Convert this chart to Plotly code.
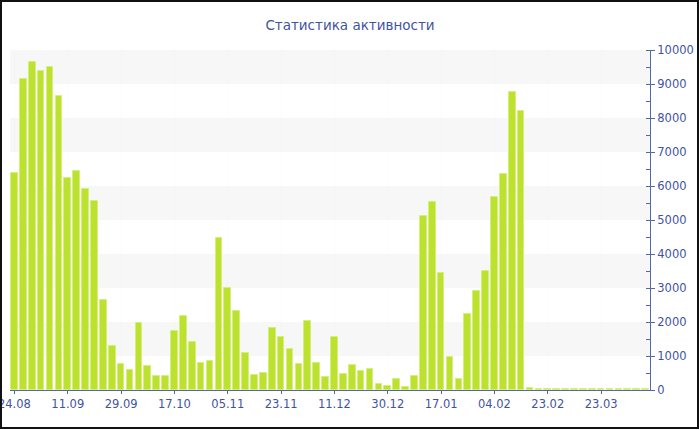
import plotly.graph_objects as go

# ---- data ----
tick_labels = ["24.08", "11.09", "29.09", "17.10", "05.11", "23.11",
               "11.12", "30.12", "17.01", "04.02", "23.02", "23.03"]
values = [
    6370, 9150, 9650, 9390, 9490, 8640, 6230, 6440, 5900, 5550,
    2650, 1280, 760, 600, 1960, 700, 420, 420, 1750, 2190,
    1420, 780, 860, 4460, 3010, 2330, 1100, 430, 500, 1820,
    1550, 1200, 760, 2040, 790, 380, 1550, 470, 730, 560,
    630, 180, 120, 320, 90, 400, 5120, 5520, 3450, 960,
    320, 2230, 2900, 3490, 5670, 6360, 8760, 8200, 60, 30,
    25, 30, 25, 25, 30, 25, 30, 25, 30, 25, 25, 30,
]
positions = list(range(len(values)))
label_every = 6
tick_positions = positions[::label_every]
band_ranges = [(1000, 2000), (3000, 4000), (5000, 6000), (7000, 8000), (9000, 10000)]

AXIS = "#5468a6"
TEXT = "#3f54a0"

fig = go.Figure()
fig.add_trace(go.Bar(
    x=positions, y=values,
    marker=dict(color="#bde12f", line=dict(color="#d6ef7a", width=1)),
    width=0.74,
    hoverinfo="y",
))

shapes = []
for lo, hi in band_ranges:
    shapes.append(dict(type="rect", xref="paper", yref="y", x0=0, x1=1, y0=lo, y1=hi,
                       fillcolor="#f7f7f7", line=dict(width=0), layer="below"))
# outer border of the image
L, R, T, B = 10, 50, 50, 40
W, H = 700, 430
pw, ph = W - L - R, H - T - B
bx0, bx1, by0, by1 = 1, W - 2, 1, H - 2
shapes.append(dict(type="rect", xref="paper", yref="paper",
                   x0=(bx0 - L) / pw, x1=(bx1 - L) / pw,
                   y0=(H - B - by1) / ph, y1=(H - B - by0) / ph,
                   line=dict(color="#111111", width=2), fillcolor="rgba(0,0,0,0)", layer="above"))

fig.update_layout(
    width=W, height=H,
    margin=dict(l=L, r=R, t=T, b=B, autoexpand=False),
    paper_bgcolor="white", plot_bgcolor="white",
    shapes=shapes,
    showlegend=False,
    bargap=0,
    title=dict(text="Статистика активности", x=0.5, xref="container", xanchor="center",
               y=1 - 25 / H, yref="container", yanchor="middle",
               font=dict(family="DejaVu Sans", size=13.5, color=TEXT)),
    font=dict(family="DejaVu Sans", size=11, color=TEXT),
    xaxis=dict(
        range=[-0.5, len(values) - 0.5],
        tickmode="array", tickvals=tick_positions, ticktext=tick_labels,
        showline=True, linecolor=AXIS, linewidth=1,
        ticks="outside", ticklen=3, tickcolor=AXIS,
        showgrid=True, gridcolor="rgba(0,0,0,0.012)",
        zeroline=False, automargin=False, ticklabeloverflow="allow",
        tickfont=dict(size=11.5, color=TEXT),
    ),
    yaxis=dict(
        side="right", range=[0, 10000], dtick=1000, tickformat="d",
        showline=True, linecolor=AXIS, linewidth=1,
        ticks="outside", ticklen=4, tickcolor=AXIS,
        minor=dict(dtick=500, ticks="inside", ticklen=4, tickcolor=AXIS),
        showgrid=False, zeroline=False, automargin=False, ticklabeloverflow="allow",
        tickfont=dict(size=11.5, color=TEXT),
    ),
)

fig.write_html("out.html", config={"displayModeBar": False},
               post_script="document.body.style.margin='0';document.body.style.overflow='hidden';")
